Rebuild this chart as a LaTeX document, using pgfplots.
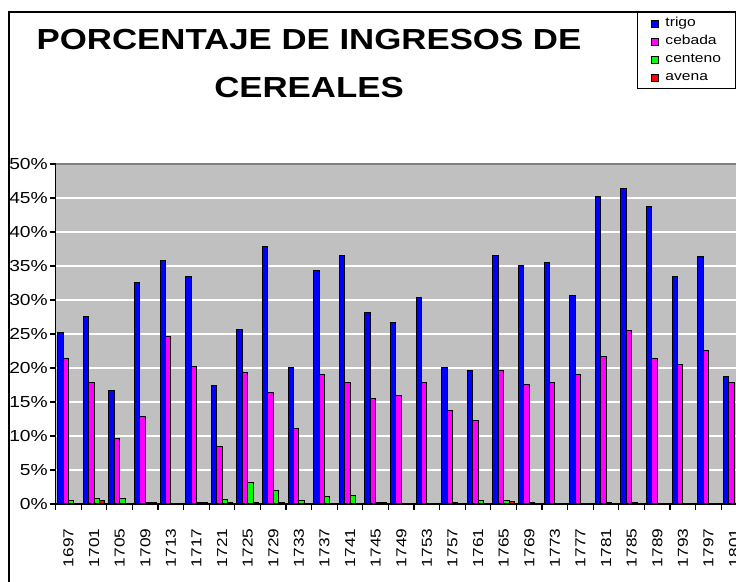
\documentclass[border=0pt]{standalone}
\usepackage{fontspec}
\setmainfont{Liberation Sans}[FakeStretch=1.2]
\usepackage{pgfplots}
\usepackage{pgfplotstable}
\pgfplotsset{compat=1.18}
\definecolor{plotbg}{HTML}{C0C0C0}
\definecolor{trigo}{HTML}{0000FF}
\definecolor{cebada}{HTML}{FF00FF}
\definecolor{centeno}{HTML}{00FF00}
\definecolor{avena}{HTML}{FF0000}

% index, year, share of each cereal (%)
\pgfplotstableread{
x  year trigo cebada centeno avena
0  1697 25.2  21.4   0.5     0.0
1  1701 27.5  17.9   0.8     0.5
2  1705 16.7   9.6   0.8     0.0
3  1709 32.5  12.8   0.2     0.2
4  1713 35.8  24.6   0.0     0.0
5  1717 33.4  20.2   0.2     0.2
6  1721 17.4   8.5   0.6     0.2
7  1725 25.6  19.3   3.2     0.2
8  1729 37.9  16.4   2.0     0.2
9  1733 20.0  11.1   0.5     0.0
10 1737 34.3  19.0   1.1     0.0
11 1741 36.5  17.8   1.2     0.0
12 1745 28.2  15.5   0.2     0.2
13 1749 26.7  15.9   0.0     0.0
14 1753 30.3  17.8   0.0     0.0
15 1757 20.0  13.8   0.2     0.0
16 1761 19.7  12.3   0.5     0.0
17 1765 36.5  19.6   0.5     0.3
18 1769 35.0  17.5   0.2     0.0
19 1773 35.5  17.9   0.0     0.0
20 1777 30.6  19.1   0.0     0.0
21 1781 45.2  21.7   0.2     0.0
22 1785 46.4  25.5   0.2     0.0
23 1789 43.8  21.4   0.0     0.0
24 1793 33.5  20.5   0.0     0.0
25 1797 36.4  22.6   0.0     0.0
26 1801 18.8  17.9   0.0     0.0
}\cereales

\pgfplotsset{
  sq/.style={draw=black, line width=0.5pt,
    legend image code/.code={\draw[##1, line width=0.5pt] (0pt,-1.75pt) rectangle (3.5pt,1.75pt);}},
}

\begin{document}
\begin{tikzpicture}
\useasboundingbox (0,0) rectangle (368pt,291pt);
\clip (0,0) rectangle (368pt,291pt);
% chart frame (cut on the right and bottom)
\draw[line width=1pt] (4.5pt,285pt) rectangle (420pt,-20pt);

\node[anchor=base, font=\fontsize{14.5}{16}\selectfont\bfseries] at (154.5pt,266pt) {PORCENTAJE DE INGRESOS DE};
\node[anchor=base, font=\fontsize{14.5}{16}\selectfont\bfseries] at (154.5pt,242pt) {CEREALES};

\begin{axis}[
  scale only axis, width=345.6pt, height=170pt,
  at={(27.85pt,39pt)}, anchor=south west,
  xmin=-0.5, xmax=26.5, ymin=0, ymax=50,
  ybar=0pt, bar width=2.7pt,
  axis background/.style={fill=plotbg},
  axis x line*=bottom, axis y line*=left,
  axis line style={black, line width=0.8pt},
  ymajorgrids, grid style={white, line width=0.8pt},
  tick align=outside, major tick length=2.8pt, minor tick length=2.8pt,
  tick style={black, line width=0.6pt},
  ytick={0,5,...,50},
  yticklabels={0\%,5\%,10\%,15\%,20\%,25\%,30\%,35\%,40\%,45\%,50\%},
  yticklabel style={font=\fontsize{8}{9}\selectfont, inner sep=1pt},
  xtick={0,...,26},
  xticklabels={1697,1701,1705,1709,1713,1717,1721,1725,1729,1733,1737,1741,1745,1749,1753,1757,1761,1765,1769,1773,1777,1781,1785,1789,1793,1797,1801},
  major x tick style={draw=none},
  minor xtick={-0.5,0.5,...,26.5},
  xticklabel style={font=\fontsize{7.2}{8}\selectfont, yshift=-6pt, rotate=90, anchor=east},
  legend style={at={(0.841,1.447)}, anchor=north west, draw=black, line width=0.5pt,
    font=\fontsize{6.5}{7}\selectfont, inner xsep=7pt, inner ysep=2.3pt,
    row sep=2.6pt, column sep=0pt,
    nodes={inner sep=0pt, text height=4.9pt, text depth=1.5pt}},
  legend cell align=left,
]
\addplot[sq, fill=trigo] table[x=x, y=trigo] {\cereales};
\addplot[sq, fill=cebada] table[x=x, y=cebada] {\cereales};
\addplot[sq, fill=centeno] table[x=x, y=centeno] {\cereales};
\addplot[sq, fill=avena] table[x=x, y=avena] {\cereales};
\legend{\hspace{3pt}trigo, \hspace{3pt}cebada, \hspace{3pt}centeno, \hspace{3pt}avena}
\draw[gray, line width=0.8pt] (rel axis cs:0,1) -- (rel axis cs:1,1);
\end{axis}
\end{tikzpicture}
\end{document}
